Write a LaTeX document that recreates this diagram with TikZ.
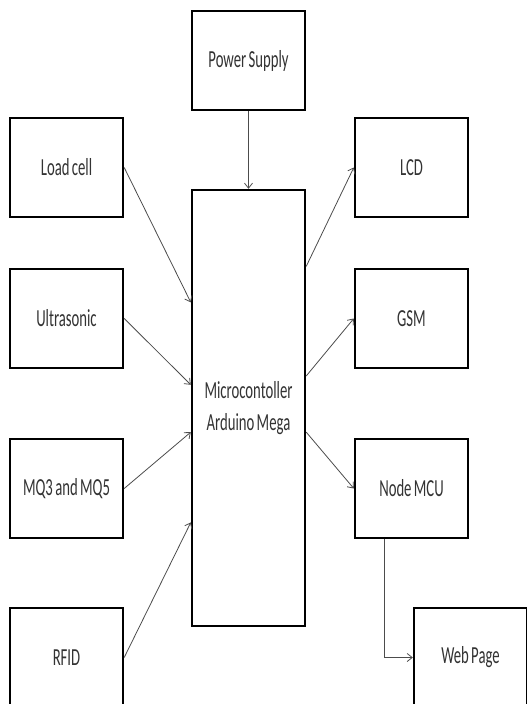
\documentclass[tikz,border=0pt]{standalone}
\usepackage{fontspec}
\setmainfont{Carlito}[FakeStretch=0.6,WordSpace=0.7]
\usetikzlibrary{arrows.meta,calc}
\begin{document}
\begin{tikzpicture}[x=1pt,y=-1pt,
  box/.style={draw=black,line width=2.4pt,fill=white,minimum width=113pt,minimum height=99pt,inner sep=0pt,align=center,
    font=\fontsize{24.5}{32}\selectfont,text=black!80},
  conn/.style={draw=black!70,line width=0.8pt,-{Straight Barb[length=5pt,width=8pt]}}]
\useasboundingbox (0,0) rectangle (527,704);
\clip (0,0) rectangle (527,704);
\node[box] (ps) at (248.5,60.5) {Power Supply};
\node[box] (load) at (66.5,167.5) {Load cell};
\node[box] (lcd) at (411.5,167.5) {LCD};
\node[box,minimum height=436pt] (micro) at (248.5,408) {Microcontoller\\Arduino Mega};
\node[box] (ultra) at (66.5,318.5) {Ultrasonic};
\node[box] (gsm) at (411.5,318.5) {GSM};
\node[box] (mq) at (66.5,488.5) {MQ3 and MQ5};
\node[box] (nmcu) at (411.5,488.5) {Node MCU};
\node[box] (rfid) at (66.5,657.5) {RFID};
\node[box] (web) at (470.5,657.5) {Web Page};
\draw[conn] (ps.south) -- (micro.north);
\draw[conn] (load.east) -- ($(micro.north west)!0.259!(micro.south west)$);
\draw[conn] (ultra.east) -- ($(micro.north west)!0.447!(micro.south west)$);
\draw[conn] (mq.east) -- ($(micro.north west)!0.555!(micro.south west)$);
\draw[conn] (rfid.east) -- ($(micro.north west)!0.761!(micro.south west)$);
\draw[conn] ($(micro.north east)!0.177!(micro.south east)$) -- (lcd.west);
\draw[conn] ($(micro.north east)!0.427!(micro.south east)$) -- (gsm.west);
\draw[conn] ($(micro.north east)!0.555!(micro.south east)$) -- (nmcu.west);
\draw[conn] ($(nmcu.south)+(-27.5,0)$) |- (web.west);
\end{tikzpicture}
\end{document}
